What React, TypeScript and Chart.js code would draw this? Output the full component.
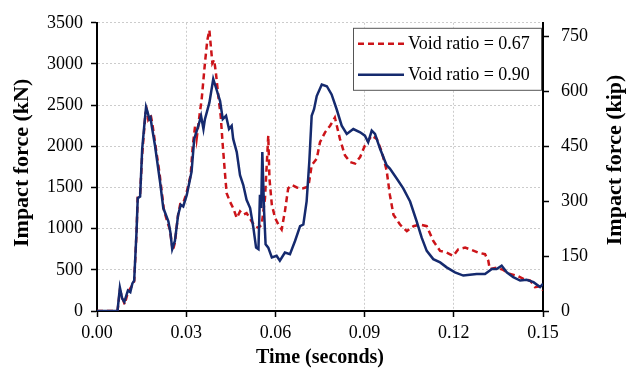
import React, { useEffect, useRef } from "react";
import { Chart, registerables } from "chart.js";

Chart.register(...registerables);

const KN_PER_KIP = 4.448;
const X_TICKS = [0, 0.03, 0.06, 0.09, 0.12, 0.15];
const KN_TICKS = [0, 500, 1000, 1500, 2000, 2500, 3000, 3500];
const KIP_TICKS = [0, 150, 300, 450, 600, 750];
const SERIES_LABELS = ["Void ratio = 0.67", "Void ratio = 0.90"];
const AXIS_TITLES = ["Time (seconds)", "Impact force (kN)", "Impact force (kip)"];

// Void ratio = 0.67 (red dashed)
const timeA = [
  0, 0.0069, 0.0077, 0.0093, 0.0104, 0.012, 0.0125, 0.0133, 0.0137, 0.0145,
  0.0152, 0.0163, 0.0167, 0.0172, 0.018, 0.0186, 0.0195, 0.021, 0.0225, 0.0235,
  0.0245, 0.0255, 0.0262, 0.0272, 0.028, 0.029, 0.03, 0.0315, 0.0322, 0.033,
  0.0335, 0.0346, 0.0352, 0.0363, 0.0371, 0.0378, 0.0383, 0.0388, 0.0394, 0.04,
  0.0408, 0.0416, 0.0423, 0.043, 0.0436, 0.0447, 0.0458, 0.047, 0.0481, 0.0492,
  0.0503, 0.052, 0.0531, 0.0543, 0.0554, 0.0565, 0.0576, 0.058, 0.0588, 0.0599,
  0.061, 0.0621, 0.0632, 0.0643, 0.0655, 0.0672, 0.0694, 0.0711, 0.0722, 0.0739,
  0.075, 0.0767, 0.0784, 0.08, 0.0817, 0.0834, 0.0851, 0.0868, 0.0885, 0.0901,
  0.0924, 0.0941, 0.0958, 0.0974, 0.0985, 0.0997, 0.1019, 0.1042, 0.1064, 0.1086,
  0.1109, 0.1131, 0.1154, 0.1176, 0.1198, 0.1215, 0.1238, 0.1254, 0.1282, 0.1305,
  0.1316, 0.1321, 0.1344, 0.1366, 0.1389, 0.1412, 0.1434, 0.1457, 0.1473, 0.149,
  0.15,
];
const forceA = [
  0, 0, 250, 80, 230, 320, 360, 950, 1400, 1420,
  1900, 2400, 2440, 2330, 2390, 2280, 2050, 1680, 1230, 1100,
  990, 730, 830, 1150, 1300, 1310, 1420, 1650, 2000, 2250,
  2090, 2410, 2570, 3010, 3290, 3410, 3210, 3010, 3050, 2890,
  2610, 2370, 2010, 1690, 1430, 1330, 1250, 1130, 1210, 1170,
  1190, 1090, 1030, 1010, 1050, 1370, 2130, 1610, 1290, 1130,
  1050, 990, 1210, 1490, 1530, 1500, 1490, 1510, 1770, 1850,
  2050, 2170, 2250, 2350, 2090, 1890, 1810, 1790, 1870, 2010,
  2130, 2090, 1930, 1710, 1410, 1170, 1050, 970, 1030, 1050,
  1030, 850, 730, 710, 670, 750, 770, 750, 710, 690,
  610, 510, 525, 500, 450, 430, 390, 370, 290, 300,
  250,
];

// Void ratio = 0.90 (blue solid)
const timeB = [
  0, 0.0069, 0.0077, 0.0085, 0.0092, 0.0098, 0.0104, 0.0112, 0.0119, 0.0125,
  0.0133, 0.0137, 0.0145, 0.0152, 0.0159, 0.0165, 0.017, 0.0176, 0.018, 0.0184,
  0.0195, 0.0212, 0.0223, 0.024, 0.0247, 0.0253, 0.0262, 0.0273, 0.0282, 0.029,
  0.0302, 0.0318, 0.0327, 0.0341, 0.035, 0.0358, 0.0363, 0.0378, 0.0391, 0.0402,
  0.0414, 0.0423, 0.0434, 0.0444, 0.0453, 0.0458, 0.047, 0.0481, 0.0492, 0.0503,
  0.0515, 0.0526, 0.0535, 0.0543, 0.0548, 0.0552, 0.0556, 0.0562, 0.0567, 0.0576,
  0.0588, 0.0604, 0.0615, 0.0632, 0.0649, 0.0666, 0.0683, 0.0694, 0.0705, 0.0714,
  0.0722, 0.073, 0.0739, 0.0756, 0.0773, 0.0789, 0.0806, 0.0823, 0.084, 0.0862,
  0.0885, 0.0901, 0.0912, 0.0924, 0.0935, 0.0952, 0.0974, 0.0985, 0.1008, 0.103,
  0.1053, 0.1075, 0.1092, 0.1109, 0.1131, 0.1154, 0.1176, 0.1204, 0.1232, 0.1254,
  0.1277, 0.1305, 0.1328, 0.1344, 0.1361, 0.1378, 0.14, 0.1423, 0.1445, 0.1468,
  0.149, 0.15,
];
const forceB = [
  0, 0, 284, 150, 111, 180, 250, 230, 335, 370,
  970, 1370, 1390, 1970, 2250, 2478, 2420, 2330, 2350, 2250,
  2010, 1570, 1250, 1090, 950, 752, 850, 1170, 1290, 1270,
  1410, 1690, 2090, 2250, 2370, 2210, 2330, 2530, 2818, 2690,
  2550, 2330, 2370, 2210, 2250, 2090, 1930, 1650, 1530, 1350,
  1250, 1010, 770, 750, 1410, 1250, 1930, 1210, 810, 770,
  650, 670, 610, 710, 690, 850, 1030, 1050, 1330, 1810,
  2370, 2450, 2610, 2750, 2730, 2630, 2450, 2250, 2150, 2210,
  2170, 2130, 2050, 2190, 2150, 1970, 1770, 1730, 1610, 1490,
  1330, 1090, 890, 730, 630, 590, 530, 470, 430, 440,
  450, 450, 510, 510, 550, 470, 410, 370, 380, 350,
  290, 330,
];

const SERIF = "'Liberation Serif', 'Times New Roman', serif";

export default function App() {
  const ref = useRef<HTMLCanvasElement>(null);

  useEffect(() => {
    if (!ref.current) return;

    const boxLegend = {
      id: "boxLegend",
      afterDatasetsDraw(chart: any) {
        const { ctx, chartArea } = chart;
        const w = 188;
        const h = 62;
        const x0 = chartArea.right - 2 - w;
        const y0 = chartArea.top + 5;
        ctx.save();
        ctx.fillStyle = "#ffffff";
        ctx.fillRect(x0, y0, w, h);
        ctx.strokeStyle = "#555555";
        ctx.lineWidth = 1;
        ctx.strokeRect(x0 + 0.5, y0 + 0.5, w, h);
        chart.data.datasets.forEach((ds: any, i: number) => {
          const cy = y0 + 16 + i * 31;
          ctx.strokeStyle = ds.borderColor;
          ctx.lineWidth = 2.5;
          ctx.setLineDash(ds.borderDash || []);
          ctx.beginPath();
          ctx.moveTo(x0 + 5, cy);
          ctx.lineTo(x0 + 51, cy);
          ctx.stroke();
          ctx.setLineDash([]);
          ctx.fillStyle = "#000000";
          ctx.font = `18px ${SERIF}`;
          ctx.textBaseline = "middle";
          ctx.textAlign = "left";
          ctx.fillText(ds.label, x0 + 55, cy);
        });
        ctx.restore();
      },
    };

    // Both vertical axis titles read bottom-to-top, as in the reference.
    const verticalTitles = {
      id: "verticalTitles",
      afterDraw(chart: any) {
        const { ctx, chartArea } = chart;
        const midY = (chartArea.top + chartArea.bottom) / 2;
        const draw = (text: string, x: number, y: number) => {
          ctx.save();
          ctx.translate(x, y);
          ctx.rotate(-Math.PI / 2);
          ctx.font = `bold 22px ${SERIF}`;
          ctx.fillStyle = "#000000";
          ctx.textAlign = "center";
          ctx.textBaseline = "middle";
          ctx.fillText(text, 0, 0);
          ctx.restore();
        };
        draw(AXIS_TITLES[1], chart.scales.y.left + 22, midY - 4);
        draw(AXIS_TITLES[2], chart.scales.y1.right - 20, midY - 7);
      },
    };

    const tickFont = { size: 18, family: SERIF };
    const titleFont = { size: 20, family: SERIF, weight: "bold" as const };
    const gridBase = {
      color: "#cccccc",
      lineWidth: 1,
      tickLength: 6,
      tickColor: "#000000",
      tickWidth: 1.5,
    };

    const chart = new Chart(ref.current, {
      type: "line",
      data: {
        datasets: [
          {
            label: SERIES_LABELS[0],
            data: timeA.map((t, i) => ({ x: t, y: forceA[i] })),
            borderColor: "#cc1419",
            borderWidth: 2.5,
            borderDash: [6, 4],
            pointRadius: 0,
            tension: 0,
            fill: false,
            order: 1,
            yAxisID: "y",
          },
          {
            label: SERIES_LABELS[1],
            data: timeB.map((t, i) => ({ x: t, y: forceB[i] })),
            borderColor: "#152a6e",
            borderWidth: 2.5,
            pointRadius: 0,
            tension: 0,
            fill: false,
            order: 0,
            yAxisID: "y",
          },
        ],
      },
      options: {
        animation: false,
        responsive: false,
        maintainAspectRatio: false,
        layout: { padding: { top: 19, left: 0, right: 0, bottom: 0 } },
        plugins: {
          legend: { display: false },
          tooltip: { enabled: false },
        },
        scales: {
          x: {
            type: "linear",
            min: 0,
            max: 0.15,
            afterBuildTicks: (s: any) => {
              s.ticks = X_TICKS.map((v) => ({ value: v }));
            },
            afterFit: (s: any) => {
              s.height = 59;
            },
            ticks: {
              font: tickFont,
              color: "#000000",
              padding: 5,
              maxRotation: 0,
              autoSkip: false,
              callback: (v: any) => Number(v).toFixed(2),
            },
            grid: gridBase,
            border: { color: "#000000", width: 2, dash: [2, 2] },
            title: {
              display: true,
              text: AXIS_TITLES[0],
              font: titleFont,
              color: "#000000",
              padding: { top: 0, bottom: 0 },
            },
          },
          y: {
            type: "linear",
            position: "left",
            min: 0,
            max: 3500,
            afterBuildTicks: (s: any) => {
              s.ticks = KN_TICKS.map((v) => ({ value: v }));
            },
            afterFit: (s: any) => {
              s.width = 97;
            },
            ticks: {
              font: tickFont,
              color: "#000000",
              padding: 8,
              callback: (v: any) => String(v),
            },
            grid: gridBase,
            border: { color: "#000000", width: 2, dash: [2, 2] },
            title: { display: false },
          },
          y1: {
            type: "linear",
            position: "right",
            min: 0,
            max: 3500 / KN_PER_KIP,
            afterBuildTicks: (s: any) => {
              s.ticks = KIP_TICKS.map((v) => ({ value: v }));
            },
            afterFit: (s: any) => {
              s.width = 92;
            },
            ticks: {
              font: tickFont,
              color: "#000000",
              padding: 12,
              callback: (v: any) => String(v),
            },
            grid: { ...gridBase, drawOnChartArea: false },
            border: { color: "#000000", width: 2 },
            title: { display: false },
          },
        },
      },
      plugins: [boxLegend, verticalTitles],
    });

    return () => chart.destroy();
  }, []);

  return (
    <div style={{ position: "absolute", left: 0, top: 0, width: 635, height: 370, background: "#ffffff" }}>
      <canvas ref={ref} width={635} height={370} style={{ display: "block" }} />
    </div>
  );
}
